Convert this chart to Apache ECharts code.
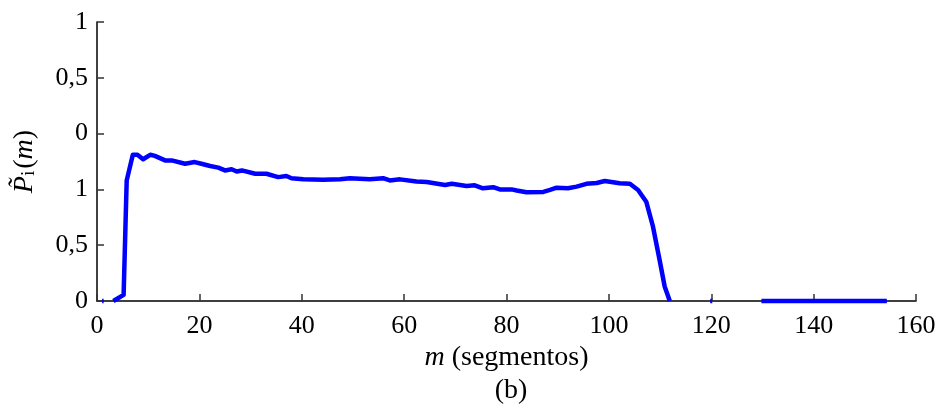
<!DOCTYPE html>
<html>
<head>
<meta charset="utf-8">
<script src="https://cdn.jsdelivr.net/npm/echarts@6/dist/echarts.min.js"></script>
<style>
html,body{margin:0;padding:0;background:#fff;}
#chart{width:944px;height:410px;}
</style>
</head>
<body>
<div id="chart"></div>
<script>
// m (segment index); null marks a break between drawn pieces
var mValues = [1.0, 1.3, null,
  3.2, 5.2, 5.8, 7.0, 7.9, 9.0, 10.4, 11.3, 13.3, 14.6, 17.2, 19.1, 20.4, 22.1, 23.7, 25.0, 26.3, 27.3, 28.3,
  30.9, 33.1, 35.4, 37.0, 38.0, 40.3, 44.2, 47.5, 49.4, 53.3, 55.9, 57.2, 59.2, 62.4, 64.4, 68.0, 69.3,
  72.2, 73.8, 75.4, 77.4, 78.7, 81.0, 82.0, 83.9, 87.2, 88.5, 89.8, 92.0, 93.7, 95.6, 97.6, 99.2, 102.1,
  104.1, 105.7, 107.3, 108.6, 109.9, 110.9, 111.9, null,
  119.8, 120.2, null,
  129.8, 154.3];
var pValues = [0, 0, null,
  0, 0.055, 1.08, 1.31, 1.31, 1.27, 1.31, 1.30, 1.26, 1.26, 1.23, 1.245, 1.23, 1.21, 1.195, 1.17, 1.18, 1.16, 1.17,
  1.14, 1.14, 1.11, 1.12, 1.10, 1.09, 1.087, 1.09, 1.10, 1.09, 1.10, 1.08, 1.09, 1.07, 1.066, 1.04, 1.05,
  1.03, 1.037, 1.01, 1.02, 1.00, 1.00, 0.99, 0.975, 0.977, 0.995, 1.015, 1.01, 1.025, 1.05, 1.057, 1.075, 1.055,
  1.05, 0.995, 0.89, 0.67, 0.37, 0.13, 0, null,
  0, 0, null,
  0, 0];
var yTickLabels = ['0', '0,5', '1', '0', '0,5', '1'];
var xTickLabels = ['0', '20', '40', '60', '80', '100', '120', '140', '160'];
var xAxisTitle = 'm';
var xAxisUnit = ' (segmentos)';
var subCaption = '(b)';

var seriesData = mValues.map(function (m, i) {
  return pValues[i] === null ? [m === null ? '-' : m, '-'] : [m, pValues[i]];
});

var FONT = 'Liberation Serif';
var chart = echarts.init(document.getElementById('chart'), null, {renderer: 'canvas'});
chart.setOption({
  animation: false,
  backgroundColor: '#ffffff',
  grid: {left: 97, right: 28, top: 22, bottom: 109, containLabel: false},
  title: {
    text: subCaption,
    left: 506, top: 372, textAlign: 'center',
    textStyle: {fontFamily: FONT, fontSize: 28, fontWeight: 'normal', color: '#000'}
  },
  xAxis: {
    type: 'value', min: 0, max: 160, interval: 20,
    name: '{it|' + xAxisTitle + '}{n|' + xAxisUnit + '}',
    nameLocation: 'middle', nameGap: 42,
    nameTextStyle: {
      rich: {
        it: {fontFamily: FONT, fontStyle: 'italic', fontSize: 28, color: '#000'},
        n: {fontFamily: FONT, fontSize: 28, color: '#000'}
      }
    },
    axisLine: {show: true, onZero: false, lineStyle: {color: '#000', width: 1.5}},
    axisTick: {show: true, inside: true, length: 7, lineStyle: {color: '#333', width: 1.5}},
    axisLabel: {
      fontFamily: FONT, fontSize: 26, color: '#000', margin: 12,
      formatter: function (v) { return xTickLabels[Math.round(v / 20)]; }
    },
    splitLine: {show: false}
  },
  yAxis: {
    type: 'value', min: 0, max: 2.5, interval: 0.5,
    name: '{it|P\u0303}{sub|i}{n|(}{it|m}{n|)}',
    nameLocation: 'middle', nameGap: 58, nameRotate: 90,
    nameTextStyle: {
      rich: {
        it: {fontFamily: FONT, fontStyle: 'italic', fontSize: 28, color: '#000'},
        sub: {fontFamily: FONT, fontSize: 19, color: '#000', padding: [10, 2, 0, 0]},
        n: {fontFamily: FONT, fontSize: 28, color: '#000'}
      }
    },
    axisLine: {show: true, lineStyle: {color: '#000', width: 1.5}},
    axisTick: {show: true, inside: true, length: 7, lineStyle: {color: '#333', width: 1.5}},
    axisLabel: {
      fontFamily: FONT, fontSize: 26, color: '#000', margin: 9,
      formatter: function (v) { return yTickLabels[Math.round(v / 0.5)]; }
    },
    splitLine: {show: false}
  },
  series: [{
    type: 'line',
    data: seriesData,
    showSymbol: false,
    connectNulls: false,
    clip: false,
    z: 1,
    lineStyle: {color: '#0000ff', width: 4.5, join: 'round', cap: 'butt'}
  }]
});
</script>
</body>
</html>
